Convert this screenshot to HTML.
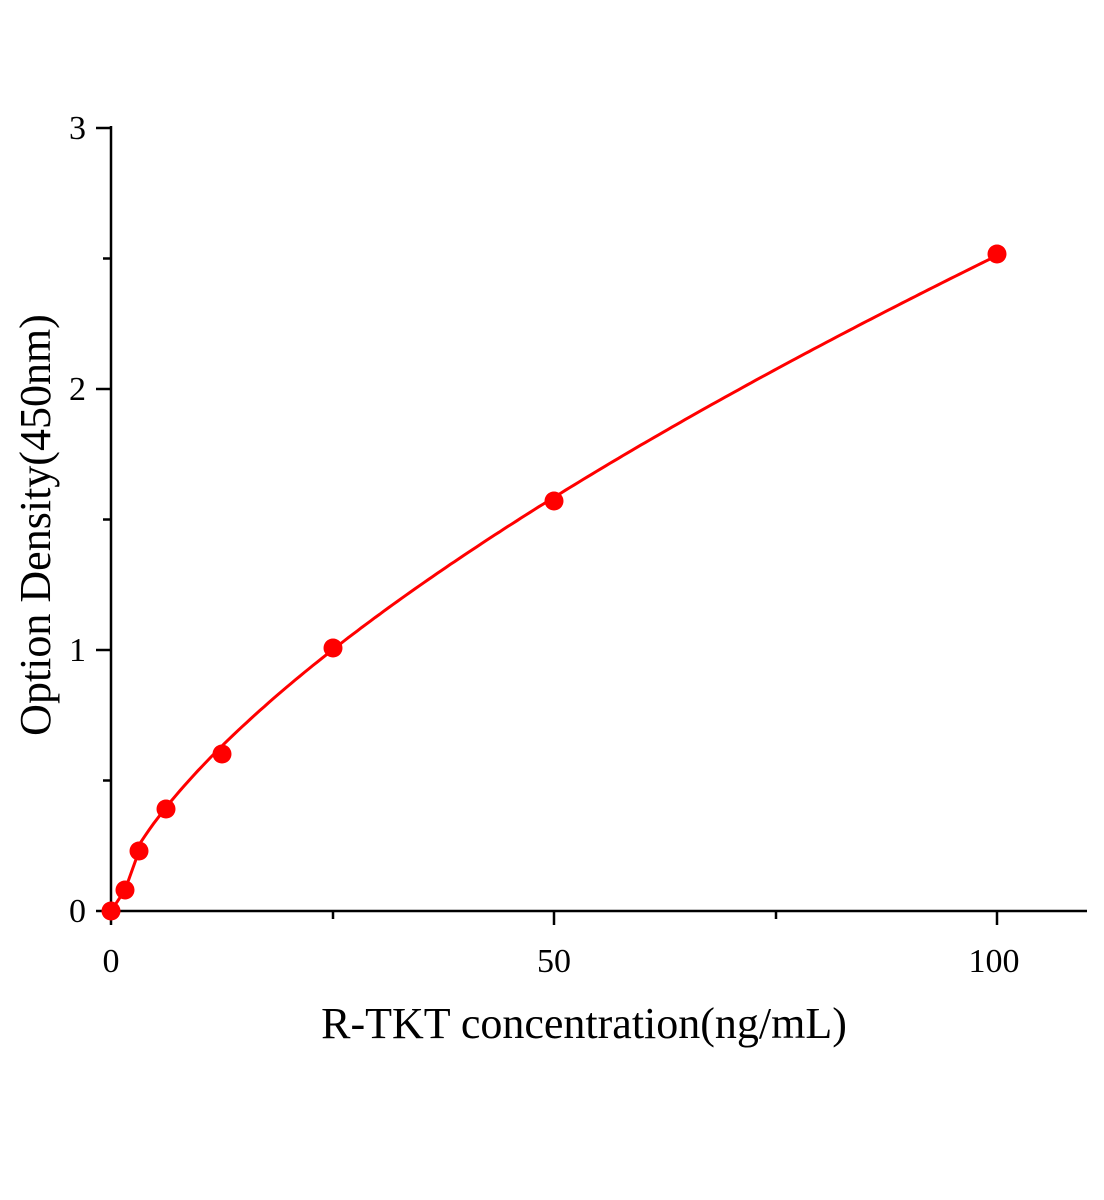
<!DOCTYPE html>
<html><head><style>body{margin:0;background:#fff}svg{display:block}text{font-family:"Liberation Serif",serif;fill:#000}</style></head>
<body>
<svg id="s" width="1104" height="1200" xmlns="http://www.w3.org/2000/svg">
<g stroke="#000" stroke-width="2.5" fill="none">
<line x1="111" y1="126" x2="111" y2="925"/>
<line x1="96" y1="911" x2="1087" y2="911"/>
<line x1="96" y1="128" x2="111" y2="128"/>
<line x1="96" y1="389" x2="111" y2="389"/>
<line x1="96" y1="650" x2="111" y2="650"/>
<line x1="103" y1="258.5" x2="111" y2="258.5"/>
<line x1="103" y1="519.5" x2="111" y2="519.5"/>
<line x1="103" y1="780.5" x2="111" y2="780.5"/>
<line x1="554" y1="911" x2="554" y2="925"/>
<line x1="997" y1="911" x2="997" y2="925"/>
<line x1="333" y1="911" x2="333" y2="919"/>
<line x1="776" y1="911" x2="776" y2="919"/>
</g>
<g font-size="34" text-anchor="end">
<text x="86" y="139">3</text><text x="86" y="400">2</text><text x="86" y="661">1</text><text x="86" y="922">0</text>
</g>
<g font-size="34" text-anchor="middle">
<text x="111" y="972">0</text><text x="554" y="972">50</text><text x="994" y="972">100</text>
</g>
<text x="584" y="1038" font-size="44" text-anchor="middle">R-TKT concentration(ng/mL)</text>
<text transform="translate(50,525) rotate(-90)" font-size="44" text-anchor="middle">Option Density(450nm)</text>
<path id="c" fill="none" stroke="#f00" stroke-width="3"/>
<g id="d" fill="#f00"></g>
</svg>
<script>
var p=[[111,911],[125,890],[139,851],[166,809],[222,754],[333,648],[554,501],[997,254]];
var d="M111,911 L125,890 L139,851";
for(var x=3.3;x<=100.01;x+=0.5){var y=0.118*Math.pow(x,0.664);d+=" L"+(111+x*8.86).toFixed(1)+","+(911-y*261).toFixed(1);}
document.getElementById("c").setAttribute("d",d);
var g=document.getElementById("d");
p.forEach(function(q){var c=document.createElementNS("http://www.w3.org/2000/svg","circle");c.setAttribute("cx",q[0]);c.setAttribute("cy",q[1]);c.setAttribute("r",9.5);g.appendChild(c);});
</script>
</body></html>
